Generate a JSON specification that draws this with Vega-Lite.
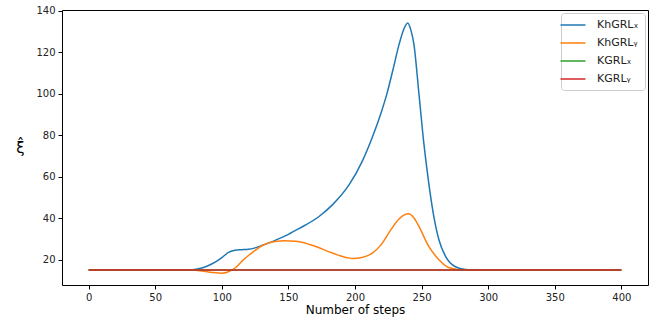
{
  "$schema": "https://vega.github.io/schema/vega-lite/v6.json",
  "width": 586,
  "height": 275,
  "autosize": "none",
  "padding": {"left": 62, "top": 10, "right": 9, "bottom": 37},
  "background": "white",
  "config": {
    "font": "DejaVu Sans",
    "view": {"stroke": "black", "strokeWidth": 1},
    "axis": {"domain": false, "grid": false, "tickColor": "black", "tickSize": 4, "labelColor": "#222", "labelFontSize": 10, "titleFontWeight": "normal", "titleColor": "black"}
  },
  "data": {"values": [
    {"step": 0, "value": 15, "series": "KhGRLx"},
    {"step": 70, "value": 15, "series": "KhGRLx"},
    {"step": 78, "value": 15.2, "series": "KhGRLx"},
    {"step": 85, "value": 16, "series": "KhGRLx"},
    {"step": 90, "value": 17.2, "series": "KhGRLx"},
    {"step": 95, "value": 18.8, "series": "KhGRLx"},
    {"step": 100, "value": 21, "series": "KhGRLx"},
    {"step": 105, "value": 23.5, "series": "KhGRLx"},
    {"step": 110, "value": 24.6, "series": "KhGRLx"},
    {"step": 115, "value": 24.8, "series": "KhGRLx"},
    {"step": 120, "value": 25, "series": "KhGRLx"},
    {"step": 125, "value": 25.7, "series": "KhGRLx"},
    {"step": 130, "value": 26.8, "series": "KhGRLx"},
    {"step": 135, "value": 28, "series": "KhGRLx"},
    {"step": 140, "value": 29.3, "series": "KhGRLx"},
    {"step": 150, "value": 32.2, "series": "KhGRLx"},
    {"step": 158, "value": 35, "series": "KhGRLx"},
    {"step": 173, "value": 40.8, "series": "KhGRLx"},
    {"step": 183, "value": 46.4, "series": "KhGRLx"},
    {"step": 195.5, "value": 56, "series": "KhGRLx"},
    {"step": 205.5, "value": 67.5, "series": "KhGRLx"},
    {"step": 213, "value": 79, "series": "KhGRLx"},
    {"step": 219.3, "value": 90.2, "series": "KhGRLx"},
    {"step": 224.2, "value": 100.5, "series": "KhGRLx"},
    {"step": 228.5, "value": 111.5, "series": "KhGRLx"},
    {"step": 233, "value": 123.5, "series": "KhGRLx"},
    {"step": 236.5, "value": 130.8, "series": "KhGRLx"},
    {"step": 239.6, "value": 134, "series": "KhGRLx"},
    {"step": 242, "value": 130.5, "series": "KhGRLx"},
    {"step": 244.2, "value": 124, "series": "KhGRLx"},
    {"step": 248, "value": 100, "series": "KhGRLx"},
    {"step": 251.7, "value": 76, "series": "KhGRLx"},
    {"step": 255.4, "value": 56.8, "series": "KhGRLx"},
    {"step": 259.2, "value": 40.8, "series": "KhGRLx"},
    {"step": 263, "value": 29.6, "series": "KhGRLx"},
    {"step": 268, "value": 21.6, "series": "KhGRLx"},
    {"step": 275.4, "value": 16.6, "series": "KhGRLx"},
    {"step": 283, "value": 15.3, "series": "KhGRLx"},
    {"step": 292, "value": 15, "series": "KhGRLx"},
    {"step": 400, "value": 15, "series": "KhGRLx"},
    {"step": 0, "value": 15, "series": "KhGRLy"},
    {"step": 75, "value": 15, "series": "KhGRLy"},
    {"step": 85, "value": 14.6, "series": "KhGRLy"},
    {"step": 90, "value": 14.1, "series": "KhGRLy"},
    {"step": 95, "value": 13.7, "series": "KhGRLy"},
    {"step": 100, "value": 13.5, "series": "KhGRLy"},
    {"step": 104, "value": 13.9, "series": "KhGRLy"},
    {"step": 110, "value": 16, "series": "KhGRLy"},
    {"step": 115, "value": 19.2, "series": "KhGRLy"},
    {"step": 120, "value": 22, "series": "KhGRLy"},
    {"step": 125, "value": 24.5, "series": "KhGRLy"},
    {"step": 130, "value": 26.7, "series": "KhGRLy"},
    {"step": 135, "value": 28, "series": "KhGRLy"},
    {"step": 140, "value": 28.8, "series": "KhGRLy"},
    {"step": 147, "value": 29.1, "series": "KhGRLy"},
    {"step": 155, "value": 28.9, "series": "KhGRLy"},
    {"step": 160, "value": 28.4, "series": "KhGRLy"},
    {"step": 170, "value": 26.5, "series": "KhGRLy"},
    {"step": 183, "value": 23.2, "series": "KhGRLy"},
    {"step": 198, "value": 20.6, "series": "KhGRLy"},
    {"step": 206, "value": 21.2, "series": "KhGRLy"},
    {"step": 213, "value": 23.2, "series": "KhGRLy"},
    {"step": 220, "value": 27.5, "series": "KhGRLy"},
    {"step": 227, "value": 34.5, "series": "KhGRLy"},
    {"step": 233, "value": 39.6, "series": "KhGRLy"},
    {"step": 237, "value": 41.6, "series": "KhGRLy"},
    {"step": 240.4, "value": 42.1, "series": "KhGRLy"},
    {"step": 244, "value": 40.3, "series": "KhGRLy"},
    {"step": 248, "value": 36, "series": "KhGRLy"},
    {"step": 255.4, "value": 26.4, "series": "KhGRLy"},
    {"step": 263, "value": 20, "series": "KhGRLy"},
    {"step": 270.4, "value": 16.2, "series": "KhGRLy"},
    {"step": 278, "value": 15.2, "series": "KhGRLy"},
    {"step": 288, "value": 15, "series": "KhGRLy"},
    {"step": 400, "value": 15, "series": "KhGRLy"},
    {"step": 0, "value": 15, "series": "KGRLx"},
    {"step": 400, "value": 15, "series": "KGRLx"},
    {"step": 0, "value": 15, "series": "KGRLy"},
    {"step": 400, "value": 15, "series": "KGRLy"}
  ]},
  "mark": {"type": "line", "interpolate": "monotone", "strokeWidth": 1.5, "clip": true},
  "encoding": {
    "x": {"field": "step", "type": "quantitative", "scale": {"domain": [-20, 420], "nice": false, "zero": false},
      "axis": {"values": [0, 50, 100, 150, 200, 250, 300, 350, 400], "title": "Number of steps", "titleFontSize": 12, "titlePadding": 2, "labelPadding": 3}},
    "y": {"field": "value", "type": "quantitative", "scale": {"domain": [7.8, 140.3], "nice": false, "zero": false},
      "axis": {"values": [20, 40, 60, 80, 100, 120, 140], "title": "ξ̂", "titleFontSize": 15, "titleAngle": 0, "titleBaseline": "middle", "titleAlign": "center", "titleX": -42, "titleY": 137, "labelPadding": 3}},
    "color": {"field": "series", "type": "nominal",
      "scale": {"domain": ["KhGRLx", "KhGRLy", "KGRLx", "KGRLy"], "range": ["#1f77b4", "#ff7f0e", "#2ca02c", "#d62728"]},
      "legend": {"title": null, "orient": "top-right", "offset": 3, "symbolType": "M-2.5,0H2.5", "symbolSize": 100, "symbolStrokeWidth": 1.5,
        "labelExpr": "datum.label == 'KhGRLx' ? 'KhGRLₓ' : datum.label == 'KhGRLy' ? 'KhGRLᵧ' : datum.label == 'KGRLx' ? 'KGRLₓ' : 'KGRLᵧ'",
        "labelFontSize": 11, "labelColor": "#222", "rowPadding": 7, "padding": 6, "strokeColor": "#cccccc", "fillColor": "white", "cornerRadius": 3, "labelOffset": 18}
    },
    "order": {"field": "series"}
  }
}
